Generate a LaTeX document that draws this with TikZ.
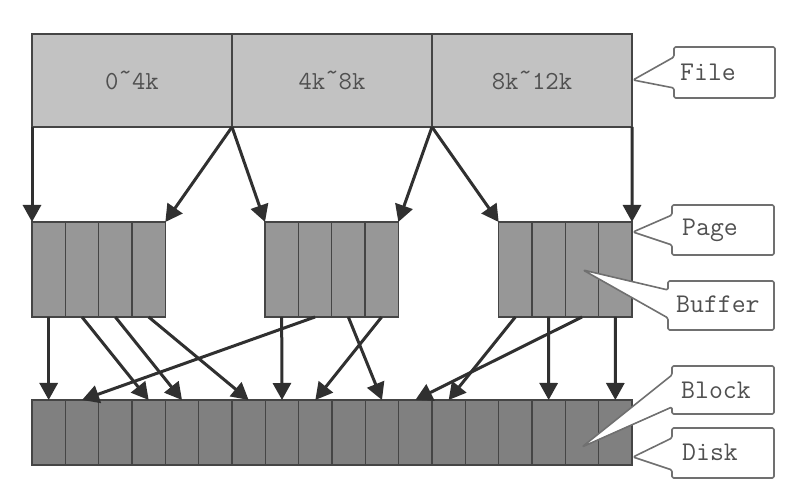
\documentclass[tikz,border=0pt]{standalone}
\usepackage{fontspec}
\usetikzlibrary{arrows.meta}
\definecolor{filec}{HTML}{C2C2C2}
\definecolor{pagec}{HTML}{979797}
\definecolor{diskc}{HTML}{808080}
\definecolor{edgec}{HTML}{454545}
\definecolor{arrc}{HTML}{303030}
\definecolor{callc}{HTML}{707070}
\definecolor{txtc}{HTML}{505050}
\newcommand{\rtil}{\raisebox{0.32em}{\textasciitilde}}
\tikzset{
  cellbase/.style={rectangle, draw=edgec, line width=1.6pt, inner sep=0pt, outer sep=0pt, anchor=north west},
  filecell/.style={cellbase, fill=filec, minimum width=200pt, minimum height=93pt, text=txtc, font=\ttfamily\fontsize{26}{26}\selectfont},
  pagecell/.style={cellbase, fill=pagec, minimum width=33.333pt, minimum height=95pt},
  diskcell/.style={cellbase, fill=diskc, minimum width=33.333pt, minimum height=65pt},
  arrowst/.style={draw=arrc, line width=3pt, -{Triangle[width=18pt,length=17pt]}},
  callbox/.style={draw=callc, line width=1.6pt, fill=white, rounded corners=1.5pt, line join=round},
  calltext/.style={anchor=west, text=txtc, inner sep=0pt, font=\ttfamily\fontsize{27}{27}\selectfont}
}
\begin{document}
\begin{tikzpicture}[x=1pt,y=-1pt]
\useasboundingbox (0,0) rectangle (796,494);
% file
\node[filecell] (f1) at (32,34) {0\rtil 4k};
\node[filecell] (f2) at (232,34) {4k\rtil 8k};
\node[filecell] (f3) at (432,34) {8k\rtil 12k};
% pages
\foreach \i in {1,...,4}{
  \node[pagecell] (pa\i) at ({32+(\i-1)*33.333},222) {};
  \node[pagecell] (pb\i) at ({265+(\i-1)*33.333},222) {};
  \node[pagecell] (pc\i) at ({498.67+(\i-1)*33.333},222) {};
}
% disk
\foreach \i in {1,...,18}{
  \node[diskcell] (d\i) at ({32+(\i-1)*33.333},400) {};
}
% file -> page
\draw[arrowst] (f1.south west) -- (pa1.north west);
\draw[arrowst] (f1.south east) -- (pa4.north east);
\draw[arrowst] (f2.south west) -- (pb1.north west);
\draw[arrowst] (f2.south east) -- (pb4.north east);
\draw[arrowst] (f3.south west) -- (pc1.north west);
\draw[arrowst] (f3.south east) -- (pc4.north east);
% page -> disk
\draw[arrowst] (pa1.south) -- (d1.north);
\draw[arrowst] (pa2.south) -- (d4.north);
\draw[arrowst] (pa3.south) -- (d5.north);
\draw[arrowst] (pa4.south) -- (d7.north);
\draw[arrowst] (pb2.south) -- (d2.north);
\draw[arrowst] (pb1.south) -- (d8.north);
\draw[arrowst] (pb3.south) -- (d11.north);
\draw[arrowst] (pb4.south) -- (d9.north);
\draw[arrowst] (pc1.south) -- (d13.north);
\draw[arrowst] (pc3.south) -- (d12.north);
\draw[arrowst] (pc2.south) -- (d16.north);
\draw[arrowst] (pc4.south) -- (d18.north);
% callouts
\draw[callbox] (674,47) -- (775,47) -- (775,98) -- (674,98) -- (674,88) -- (633,80) -- (674,57) -- cycle;
\node[calltext] (lfile) at (680,72) {File};
\draw[callbox] (672,205) -- (774,205) -- (774,255) -- (672,255) -- (672,245) -- (633,232) -- (672,215) -- cycle;
\node[calltext] (lpage) at (682,230) {Page};
\draw[callbox] (668,281) -- (774,281) -- (774,330) -- (668,330) -- (668,318) -- (583,270) -- (668,290) -- cycle;
\node[calltext] (lbuf) at (676,304) {Buffer};
\draw[callbox] (672,366) -- (774,366) -- (774,414) -- (672,414) -- (672,407) -- (582,447) -- (672,375) -- cycle;
\node[calltext] (lblock) at (681,390) {Block};
\draw[callbox] (672,428) -- (774,428) -- (774,478) -- (672,478) -- (672,470) -- (633,457) -- (672,438) -- cycle;
\node[calltext] (ldisk) at (682,452) {Disk};
\end{tikzpicture}
\end{document}
